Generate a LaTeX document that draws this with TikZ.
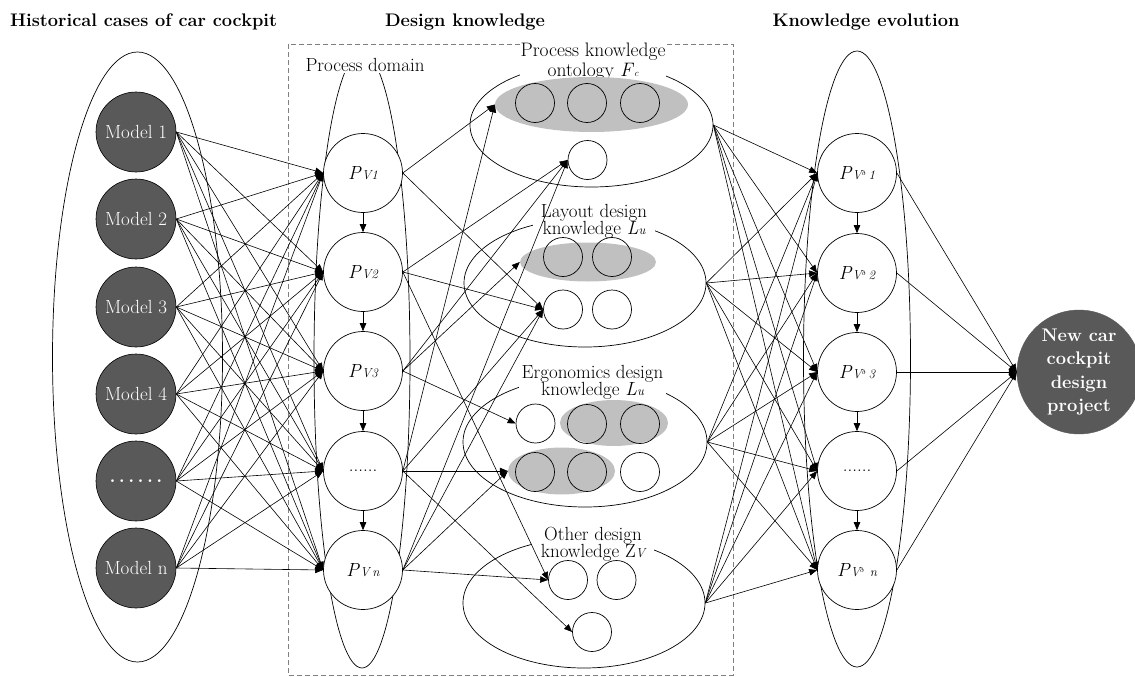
\documentclass[tikz,border=0pt]{standalone}
\usepackage{fontspec}
\usetikzlibrary{shapes.geometric,arrows.meta}
\definecolor{darkg}{HTML}{595959}
\definecolor{lightg}{HTML}{C0C0C0}
\definecolor{dashg}{HTML}{808080}
\newcommand{\smallit}{\fontsize{13}{13}\selectfont\itshape}
\newcommand{\pvlab}[1]{\textit{P}{\smallit V#1}}
\newcommand{\pvdlab}[1]{\textit{P}{\smallit V\raisebox{4pt}{\fontsize{6.5}{6.5}\selectfont\upshape ð}\hspace{3pt}#1}}
\newcommand{\wdots}{\textbf{.}\hspace{3.4pt}\textbf{.}\hspace{3.4pt}\textbf{.}\hspace{3.4pt}\textbf{.}\hspace{3.4pt}\textbf{.}\hspace{3.4pt}\textbf{.}}
\tikzset{
  basefont/.style={font=\fontsize{19}{22}\selectfont},
  hdr/.style={font=\fontsize{18.2}{20}\selectfont\bfseries, inner sep=0pt},
  bigell/.style={ellipse,draw,line width=0.7pt,inner sep=0pt},
  model/.style={circle,draw,line width=0.6pt,fill=darkg,text=white,minimum size=80pt,inner sep=0pt,basefont},
  pnode/.style={circle,draw,line width=0.7pt,fill=white,minimum size=79pt,inner sep=0pt,basefont},
  kcirc/.style={circle,draw,line width=0.7pt,minimum size=39pt,inner sep=0pt},
  gell/.style={ellipse,fill=lightg,inner sep=0pt},
  lab/.style={fill=white,inner ysep=1pt,align=center},
  tightlab/.style={lab,font={\fontsize{19}{17.5}\selectfont}},
  arr/.style={-{Triangle[length=8pt,width=6.5pt]},line width=0.6pt},
}
\begin{document}
\begin{tikzpicture}[x=1pt,y=-1pt]
\useasboundingbox (0,0) rectangle (1135,677);
% headers
\node[hdr,anchor=base west] (h1) at (10,26.7) {Historical cases of car cockpit};
\node[hdr,anchor=base] (h2) at (465,26.7) {Design knowledge};
\node[hdr,anchor=base] (h3) at (866,26.7) {Knowledge evolution};
% dashed frame
\draw[dashg,dash pattern=on 5pt off 3pt,line width=0.8pt] (288,44) rectangle (733,675);
% left column
\node[bigell,minimum width=170pt,minimum height=610pt] (lell) at (137.5,357) {};
\node[model] (m1) at (136,132) {Model 1};
\node[model] (m2) at (136,219) {Model 2};
\node[model] (m3) at (136,307) {Model 3};
\node[model] (m4) at (136,394) {Model 4};
\node[model] (m5) at (136,481) {\wdots};
\node[model] (m6) at (136,568) {Model n};
% process domain
\node[bigell,minimum width=96pt,minimum height=616pt] (pell) at (362,360) {};
\node[lab,basefont,anchor=base,text height=23pt,inner xsep=1.5pt] (pdl) at (365,71.7) {Process domain};
\node[pnode] (p1) at (363,173) {\pvlab{1}};
\node[pnode] (p2) at (363,272) {\pvlab{2}};
\node[pnode] (p3) at (363,371) {\pvlab{3}};
\node[pnode] (p4) at (363,471) {......};
\node[pnode] (p5) at (363,570) {\pvlab{\hspace{3pt}n}};
% knowledge ellipses
\node[bigell,minimum width=243pt,minimum height=124pt] (fc) at (591.5,125) {};
\node[bigell,minimum width=242pt,minimum height=128pt] (lay) at (585,283) {};
\node[bigell,minimum width=244pt,minimum height=130pt] (erg) at (585,442) {};
\node[bigell,minimum width=242pt,minimum height=130pt] (oth) at (584,603) {};
% labels
\node[lab,inner xsep=1pt,font={\fontsize{19.5}{20}\selectfont}] (fcl) at (593,61.8) {Process knowledge\\ontology \textit{F}{\fontsize{9.5}{9.5}\selectfont\itshape c}};
\node[tightlab,inner xsep=8pt] (layl) at (594,221.2) {Layout design\\knowledge \textit{L}{\smallit u}};
\node[tightlab,inner xsep=3pt] (ergl) at (592.5,382.5) {Ergonomics design\\knowledge \textit{L}{\smallit u}};
\node[tightlab,inner xsep=9pt] (othl) at (593,544.5) {Other design\\knowledge Z{\smallit V}};
% process knowledge ontology items
\node[gell,minimum width=193pt,minimum height=55pt] (fcg) at (591.5,104.5) {};
\node[kcirc] (fc1) at (535,103) {};
\node[kcirc] (fc2) at (587,103) {};
\node[kcirc] (fc3) at (640,103) {};
\node[kcirc] (fcw) at (587.5,160) {};
% layout items
\node[gell,minimum width=136pt,minimum height=39pt] (layg) at (588,262) {};
\node[kcirc] (la1) at (563,257) {};
\node[kcirc] (la2) at (612,257) {};
\node[kcirc] (lw1) at (563,309.5) {};
\node[kcirc] (lw2) at (612,309.5) {};
% ergonomics items
\node[gell,minimum width=108pt,minimum height=46pt] (erg1g) at (614,423) {};
\node[kcirc] (ew) at (535.5,423.5) {};
\node[kcirc] (e12) at (587,424) {};
\node[kcirc] (e13) at (640,424) {};
\node[gell,minimum width=107pt,minimum height=47pt] (erg2g) at (561.5,471) {};
\node[kcirc] (e21) at (535,472) {};
\node[kcirc] (e22) at (587,472) {};
\node[kcirc] (e23) at (640,472) {};
% other items
\node[kcirc] (oc1) at (568,580) {};
\node[kcirc] (oc2) at (616.5,580) {};
\node[kcirc] (ob) at (592,632) {};
% right column
\node[bigell,minimum width=107pt,minimum height=616pt] (rell) at (857,359) {};
\node[pnode] (q1) at (857,173) {\pvdlab{1}};
\node[pnode] (q2) at (857,273) {\pvdlab{2}};
\node[pnode] (q3) at (857,372) {\pvdlab{3}};
\node[pnode] (q4) at (857,471) {......};
\node[pnode] (q5) at (857,570) {\pvdlab{\hspace{3pt}n}};
% final node
\node[circle,fill=darkg,draw=darkg,minimum size=124pt,inner sep=0pt,text=white,align=center,font={\fontsize{18.3}{23.3}\selectfont\bfseries}] (fin) at (1079,372) {New car\\cockpit\\design\\project};
% connectors: models to process nodes
\foreach \m in {m1,m2,m3,m4,m5,m6}{
  \foreach \p in {p1,p2,p3,p4,p5}{
    \draw[arr] (\m.east) -- (\p.west);
  }
}
% vertical chains
\foreach \a/\b in {p1/p2,p2/p3,p3/p4,p4/p5,q1/q2,q2/q3,q3/q4,q4/q5}{
  \draw[arr] (\a.south) -- (\b.north);
}
% process nodes to knowledge
\draw[arr] (p1.east) -- (fcg.west);
\draw[arr] (p1.east) -- (lw1.west);
\draw[arr] (p2.east) -- (fcw.west);
\draw[arr] (p2.east) -- (lw1.west);
\draw[arr] (p2.east) -- (oc1.west);
\draw[arr] (p3.east) -- (fcw.west);
\draw[arr] (p3.east) -- (layg.west);
\draw[arr] (p3.east) -- (ew.west);
\draw[arr] (p4.east) -- (fcg.west);
\draw[arr] (p4.east) -- (lw1.west);
\draw[arr] (p4.east) -- (erg2g.west);
\draw[arr] (p4.east) -- (ob.west);
\draw[arr] (p5.east) -- (fcw.west);
\draw[arr] (p5.east) -- (lw1.west);
\draw[arr] (p5.east) -- (erg2g.west);
\draw[arr] (p5.east) -- (oc1.west);
% knowledge to evolution
\foreach \k in {fc,lay,erg,oth}{
  \foreach \q in {q1,q2,q3,q4,q5}{
    \draw[arr] (\k.east) -- (\q.west);
  }
}
% evolution to final
\foreach \q in {q1,q2,q3,q4,q5}{
  \draw[arr] (\q.east) -- (fin.west);
}
\end{tikzpicture}
\end{document}
